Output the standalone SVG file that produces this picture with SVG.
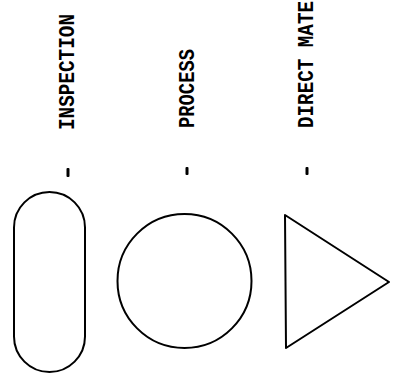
<svg xmlns="http://www.w3.org/2000/svg" width="400" height="385" viewBox="0 0 400 385">
<style>
.lbl{font-family:"Liberation Mono","DejaVu Sans Mono",monospace;font-weight:bold;font-size:22px;fill:#000}
.shape{fill:none;stroke:#000;stroke-width:2}
.tick{fill:#000}
</style>
<rect width="400" height="385" fill="#fff"/>
<g id="inspection">
<text class="lbl" transform="translate(74,130) rotate(-90)" textLength="116" lengthAdjust="spacingAndGlyphs">INSPECTION</text>
<rect class="tick" x="66.5" y="168" width="3" height="9" rx="1"/>
<rect class="shape" x="14" y="192" width="71" height="180" rx="35.5"/>
</g>
<g id="process">
<text class="lbl" transform="translate(194,128) rotate(-90)" textLength="79" lengthAdjust="spacingAndGlyphs">PROCESS</text>
<rect class="tick" x="185.5" y="167" width="3" height="8" rx="1"/>
<circle class="shape" cx="184.5" cy="281" r="67"/>
</g>
<g id="direct-material">
<text class="lbl" transform="translate(313,128) rotate(-90)" textLength="127" lengthAdjust="spacingAndGlyphs">DIRECT MATE</text>
<rect class="tick" x="305.5" y="167" width="3" height="8" rx="1"/>
<polygon class="shape" points="285,215 389,282 286,348" stroke-linejoin="round"/>
</g>
<g id="connectors"></g>
</svg>
